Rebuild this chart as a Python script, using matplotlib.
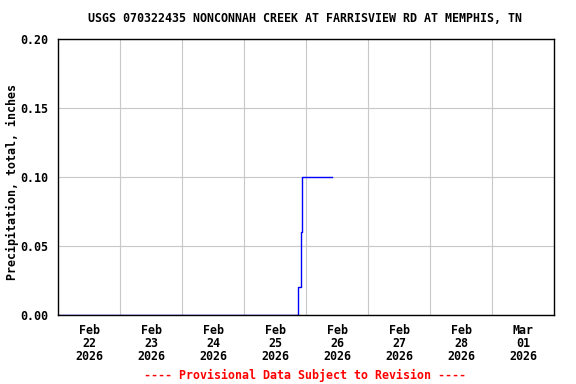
import pandas as pd
import matplotlib
matplotlib.use('Agg')
import matplotlib.pyplot as plt

# time of each reading and the precipitation total (inches)
horas = ['2026-02-22 00:00', '2026-02-25 21:00', '2026-02-25 22:15',
         '2026-02-25 22:30', '2026-02-26 10:00']
precip = [0.00, 0.02, 0.06, 0.10, 0.10]

dias = pd.date_range('2026-02-22', '2026-03-02', freq='D')
rotulos = ['Feb\n22\n2026', 'Feb\n23\n2026', 'Feb\n24\n2026', 'Feb\n25\n2026',
           'Feb\n26\n2026', 'Feb\n27\n2026', 'Feb\n28\n2026', 'Mar\n01\n2026']

plt.rcParams['font.family'] = 'DejaVu Sans Mono'
plt.rcParams['font.weight'] = 'bold'
fs = 8.35

fig = plt.figure(figsize=(5.76, 3.84), dpi=100)
ax = fig.add_axes([58 / 576, 69 / 384, 496 / 576, 276 / 384])

t = pd.to_datetime(horas)
ax.plot(t, precip, drawstyle='steps-post', color='blue', linewidth=1)

ax.set_xlim(dias[0], dias[-1])
ax.set_ylim(0, 0.20)
ax.set_yticks([0.00, 0.05, 0.10, 0.15, 0.20])
ax.set_yticklabels(['0.00', '0.05', '0.10', '0.15', '0.20'], fontsize=fs, fontweight='bold')

ax.set_xticks(dias[1:-1])
ax.set_xticklabels([])
ax.set_xticks(dias[:-1] + pd.Timedelta(hours=12), minor=True)
ax.set_xticklabels(rotulos, minor=True, fontsize=fs, fontweight='bold', linespacing=1.0)
ax.tick_params(axis='x', which='both', length=0, pad=6.5)
ax.tick_params(axis='y', length=0, pad=7)

ax.grid(True, which='major', color='#c8c8c8', linewidth=0.8)
ax.set_axisbelow(True)
for s in ax.spines.values():
    s.set_color('black')
    s.set_linewidth(1)

fig.text(12 / 576, 1 - 182.5 / 384, 'Precipitation, total, inches', rotation=90,
         ha='center', va='center', fontsize=fs, fontweight='bold')
fig.text(305 / 576, 1 - 19 / 384, 'USGS 070322435 NONCONNAH CREEK AT FARRISVIEW RD AT MEMPHIS, TN',
         ha='center', va='center', fontsize=fs, fontweight='bold')
fig.text(305.5 / 576, 1 - 375 / 384, '---- Provisional Data Subject to Revision ----',
         ha='center', va='center', fontsize=fs, fontweight='bold', color='red')

plt.savefig('out.png', dpi=100)
